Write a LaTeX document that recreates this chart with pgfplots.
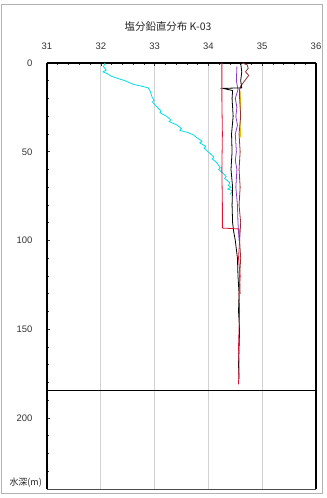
\documentclass[border=0pt]{standalone}
\usepackage{pgfplots}
\pgfplotsset{compat=1.18}
\usepackage{fontspec}
\setmainfont{Liberation Sans}
\newfontfamily\cjk{Noto Sans CJK JP}
\definecolor{ccyan}{RGB}{0,222,232}
\definecolor{cred}{RGB}{220,20,60}
\definecolor{cpurple}{RGB}{140,60,200}
\definecolor{cbrown}{RGB}{140,50,50}
\definecolor{cyellow}{RGB}{235,190,0}
\begin{document}
\begin{tikzpicture}[x=1bp,y=1bp]
\useasboundingbox (-47,-9) rectangle (279,489);
\draw[gray!60, line width=1bp] (-45,484) rectangle (275,-5);
\node[font=\cjk\fontsize{10.5}{12}\selectfont, text=black!85] at (121,462) {塩分鉛直分布 K-03};
\node[font=\cjk\fontsize{9}{10}\selectfont, anchor=east, text=black!85, inner sep=0pt] at (-5,6) {水深(m)};
\begin{axis}[at={(0,0)}, anchor=south west, scale only axis,
  width=269bp, height=426bp,
  xmin=31, xmax=36, ymin=0, ymax=240, y dir=reverse,
  axis line style={draw=none},
  xtick={31,32,33,34,35,36}, minor x tick num=4,
  ytick={0,50,100,150,200}, minor ytick={10,20,30,40,60,70,80,90,110,120,130,140,160,170,180,190,210,220,230},
  xticklabel pos=upper, xtick pos=upper, ytick pos=left,
  tick align=inside, major tick length=3bp, minor tick length=2bp,
  tick style={black!80, line width=0.6bp},
  xmajorgrids, major x grid style={gray!35, line width=0.8bp},
  /pgf/number format/assume math mode=true,
  tick label style={font=\fontsize{9.5}{10}\selectfont, text=black!80},
  xticklabel style={anchor=south, yshift=10bp},
  yticklabel style={anchor=east, xshift=-11bp},
  clip=false,
]
% axis frame
\draw[black!70, line width=0.8bp] (rel axis cs:0,0) -- (rel axis cs:1,0);
\draw[black, line width=1.4bp] (rel axis cs:0,0) -- (rel axis cs:0,1);
\draw[black, line width=1.4bp] (rel axis cs:1,0) -- (rel axis cs:1,1);
\draw[black, line width=1.4bp] (rel axis cs:0,1) -- (rel axis cs:1,1);
\addplot[black, line width=1.6bp] coordinates {(31,184.6) (36,184.6)};
% cyan
\addplot[ccyan, line width=0.8bp] coordinates {
(32.08,0)(32.05,2)(32.10,4)(32.04,5)(32.12,6)(32.20,7.5)(32.35,9)(32.45,10)(32.60,12)(32.75,13)(32.88,14)(32.92,16)(32.95,19)(32.99,21)(32.96,22)(33.05,25)(33.12,27)(33.10,28)(33.22,30)(33.30,32)(33.27,33)(33.42,35)(33.50,37)(33.47,38)(33.60,39)(33.72,40.5)(33.78,42)(33.88,44)(33.84,45)(33.95,47)(33.92,48)(34.03,51)(34.10,53)(34.07,54)(34.15,56)(34.22,59)(34.19,60)(34.27,62)(34.33,64)(34.30,65)(34.40,67.5)(34.37,69)(34.42,70)(34.36,71)(34.45,72)(34.40,74)};
% yellow
\addplot[cyellow, line width=0.8bp] coordinates {(34.59,16)(34.60,25)(34.59,34)(34.60,42)};
% purple
\addplot[cpurple, line width=0.8bp] coordinates {
(34.53,2)(34.52,10)(34.55,15)(34.50,20)(34.53,25)(34.51,30)(34.54,35)(34.50,40)(34.52,50)(34.50,55)(34.53,60)(34.51,70)(34.54,80)(34.55,90)(34.57,100)};
% brown
\addplot[cbrown, line width=0.8bp] coordinates {
(34.62,0)(34.72,1)(34.74,3)(34.69,5)(34.75,7)(34.70,9)(34.65,11)(34.60,13)(34.58,15)(34.58,20)(34.60,30)(34.57,40)(34.59,50)(34.57,60)(34.59,70)(34.57,80)(34.60,90)(34.58,100)(34.60,110)(34.58,120)(34.59,130)};
% black
\addplot[black, line width=0.8bp] coordinates {
(34.60,0)(34.62,5)(34.60,10)(34.62,14)(34.27,14.3)(34.45,15.5)(34.44,20)(34.46,30)(34.43,40)(34.44,50)(34.42,60)(34.45,70)(34.44,80)(34.45,90)(34.47,95)(34.50,100)(34.52,105)(34.54,110)(34.55,120)(34.57,130)(34.56,140)(34.58,150)(34.57,160)(34.56,170)(34.57,178)};
% red
\addplot[cred, line width=0.8bp] coordinates {
(34.25,0)(34.25,20)(34.26,40)(34.25,60)(34.26,80)(34.26,93)(34.57,93.5)(34.58,100)(34.56,110)(34.59,120)(34.57,130)(34.58,140)(34.57,150)(34.56,160)(34.57,170)(34.56,181)};
\end{axis}
\end{tikzpicture}
\end{document}
